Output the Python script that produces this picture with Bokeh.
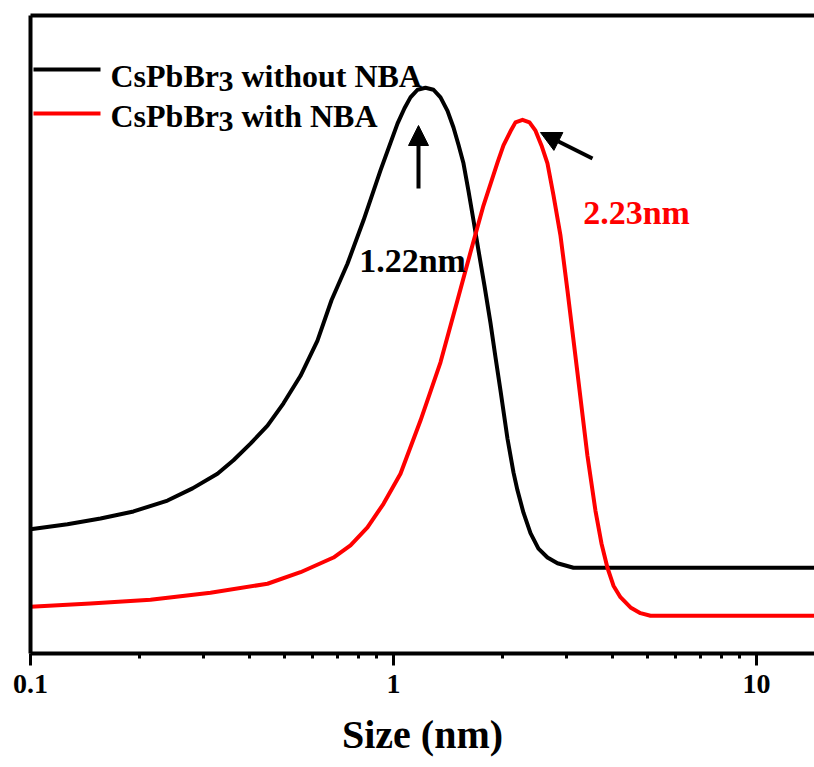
from bokeh.plotting import figure
from bokeh.models import (Range1d, LogAxis, FixedTicker, CustomJSTickFormatter,
                          Label, Arrow, NormalHead)
from bokeh.embed import file_html
from bokeh.resources import INLINE

# ---- data ----
size_black = [0.1, 0.1264, 0.1559, 0.1922, 0.2385, 0.2795, 0.3274, 0.3624, 0.4037, 0.4497,
              0.4977, 0.5545, 0.6174, 0.6749, 0.7468, 0.8269, 0.9209, 1.0257, 1.0723, 1.1137,
              1.1647, 1.2252, 1.2889, 1.3475, 1.4087, 1.4633, 1.5104, 1.5589, 1.6091, 1.6610,
              1.7145, 1.7808, 1.8497, 1.9099, 1.9715, 2.0606, 2.1407, 2.1957, 2.2808, 2.3846,
              2.5083, 2.6558, 2.8300, 3.1320, 3.717, 15.0]
int_black = [19.4, 20.2, 21.1, 22.2, 23.9, 25.8, 28.1, 30.2, 32.8, 35.6,
             39.1, 43.4, 48.9, 55.2, 60.9, 67.7, 75.5, 82.8, 85.2, 86.9,
             88.1, 88.4, 88.1, 86.9, 84.8, 82.2, 79.5, 76.6, 72.3, 67.7,
             63.0, 57.5, 51.7, 46.3, 41.1, 33.6, 28.3, 25.5, 22.0, 18.8,
             16.4, 15.0, 14.1, 13.4, 13.4, 13.4]

size_red = [0.1, 0.1463, 0.2141, 0.3132, 0.4497, 0.5545, 0.6835, 0.7613, 0.8479, 0.9386,
            1.0454, 1.1869, 1.3475, 1.5007, 1.6298, 1.7697, 1.9341, 2.0091, 2.1004, 2.1681,
            2.2671, 2.3699, 2.4616, 2.5568, 2.6558, 2.7594, 2.8847, 3.0156, 3.2134, 3.4224,
            3.6015, 3.7411, 3.8857, 4.0365, 4.2193, 4.4967, 4.7915, 5.1050, 5.4400, 15.0]
int_red = [7.3, 7.8, 8.4, 9.5, 10.9, 12.7, 15.0, 16.9, 19.7, 23.4,
           28.1, 36.4, 45.5, 55.2, 62.7, 70.0, 76.7, 79.4, 81.6, 83.0,
           83.4, 83.0, 81.7, 79.4, 76.6, 71.6, 65.3, 56.7, 43.8, 30.9,
           22.3, 17.2, 13.4, 10.6, 8.8, 7.2, 6.3, 5.9, 5.9, 5.9]

major_ticks = [0.1, 1, 10]
minor_ticks = [0.2, 0.3, 0.4, 0.5, 0.6, 0.7, 0.8, 0.9, 2, 3, 4, 5, 6, 7, 8, 9]

legend_black = ["CsPbBr", "3", "without NBA"]
legend_red = ["CsPbBr", "3", "with NBA"]
peak_black = "1.22nm"
peak_red = "2.23nm"
x_label = "Size (nm)"

FONT = "Liberation Serif"

p = figure(width=814, height=767, x_axis_type="log",
           x_range=Range1d(0.1, 14.45), y_range=Range1d(0, 99.7),
           output_backend="svg", toolbar_location=None,
           min_border_left=30, min_border_right=0, min_border_top=15, min_border_bottom=114)
p.outline_line_color = None
p.grid.visible = False

p.line(size_black, int_black, line_color="black", line_width=4, line_join="round")
p.line(size_red, int_red, line_color="#ff0000", line_width=4, line_join="round")

# x axis
xa = p.xaxis[0]
xa.ticker = FixedTicker(ticks=major_ticks, minor_ticks=minor_ticks)
xa.formatter = CustomJSTickFormatter(code="return String(tick);")
xa.axis_line_width = 4
xa.major_tick_line_width = 3
xa.minor_tick_line_width = 3
xa.major_tick_out = 12
xa.major_tick_in = 0
xa.minor_tick_out = 5
xa.minor_tick_in = 0
xa.major_label_text_font = FONT
xa.major_label_text_font_style = "bold"
xa.major_label_text_font_size = "28px"
xa.major_label_text_color = "black"
xa.major_label_standoff = 9
xa.axis_label = x_label
xa.axis_label_text_font = FONT
xa.axis_label_text_font_style = "bold"
xa.axis_label_text_font_size = "40px"
xa.axis_label_text_color = "black"
xa.axis_label_standoff = 16

# y axis: line only
ya = p.yaxis[0]
ya.ticker = FixedTicker(ticks=[])
ya.axis_line_width = 4
ya.major_tick_line_color = None
ya.minor_tick_line_color = None
ya.major_label_text_font_size = "0px"

# top border
top = LogAxis(ticker=FixedTicker(ticks=[]), axis_line_width=4,
              major_tick_line_color=None, minor_tick_line_color=None,
              major_label_text_font_size="0px")
p.add_layout(top, "above")

# legend (manual)
def legend_entry(parts, color, y_line, y_base):
    p.add_layout(Arrow(end=None, x_start=3, y_start=y_line, x_end=70, y_end=y_line,
                       start_units="screen", end_units="screen",
                       line_color=color, line_width=4))
    common = dict(x_units="screen", y_units="screen", text_font=FONT,
                  text_font_style="bold", text_color="black",
                  text_baseline="alphabetic", text_align="left")
    p.add_layout(Label(x=80, y=y_base, text=parts[0], text_font_size="32px", **common))
    p.add_layout(Label(x=188, y=y_base - 6, text=parts[1], text_font_size="30px", **common))
    p.add_layout(Label(x=211, y=y_base, text=parts[2], text_font_size="32px", **common))

legend_entry(legend_black, "black", 584, 578)
legend_entry(legend_red, "#ff0000", 540, 538)

# peak annotations
def head():
    return NormalHead(size=20, fill_color="black", line_color="black", line_width=1)

p.add_layout(Arrow(end=head(), x_start=388, y_start=465, x_end=388, y_end=528,
                   start_units="screen", end_units="screen",
                   line_color="black", line_width=4))
p.add_layout(Arrow(end=head(), x_start=562, y_start=495, x_end=510, y_end=521,
                   start_units="screen", end_units="screen",
                   line_color="black", line_width=4))
p.add_layout(Label(x=382, y=393, x_units="screen", y_units="screen", text=peak_black,
                   text_font=FONT, text_font_style="bold", text_font_size="34px",
                   text_color="black", text_align="center", text_baseline="alphabetic"))
p.add_layout(Label(x=606, y=441, x_units="screen", y_units="screen", text=peak_red,
                   text_font=FONT, text_font_style="bold", text_font_size="34px",
                   text_color="#ff0000", text_align="center", text_baseline="alphabetic"))

open("out.html", "w").write(file_html(p, INLINE))
